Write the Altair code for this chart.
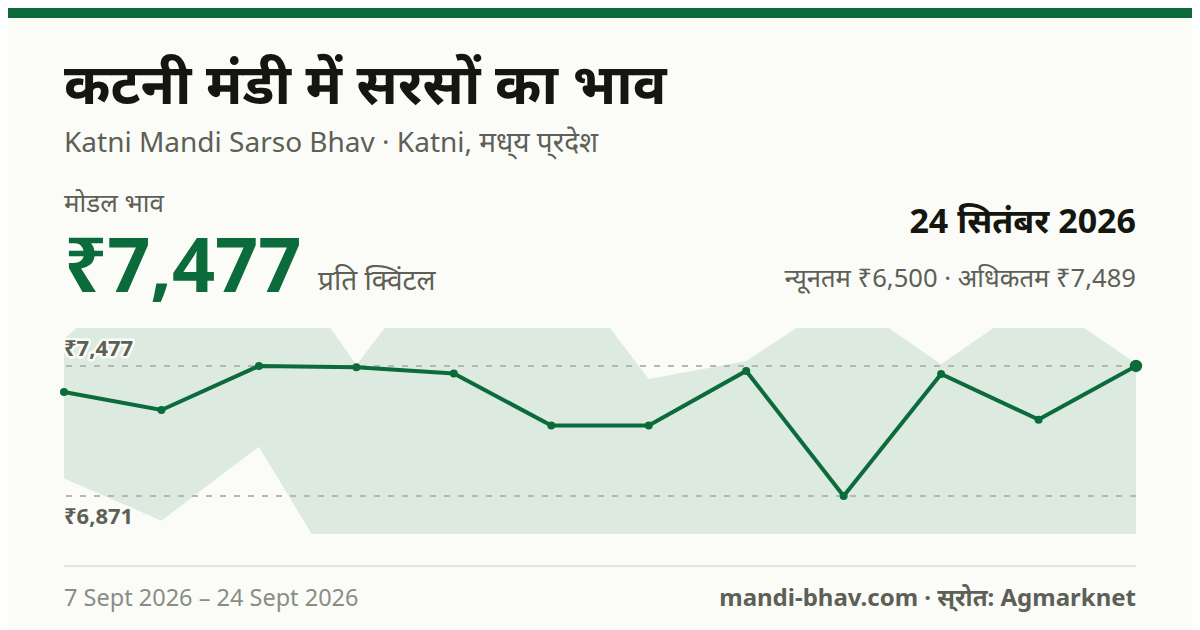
"""Katni mandi sarso bhav card: modal price line over a min-max band."""

import altair as alt
import pandas as pd

# one entry per market day in the card's range
obs = list(range(1, 13))
modal = [7356, 7272, 7477, 7471, 7442, 7200, 7200, 7454, 6871, 7440, 7227, 7477]
low = [6953, 6756, 7101, 6349, 6500, 6500, 6500, 6500, 6500, 6500, 6500, 6500]
high = [7603, 8006, 8130, 7482, 8074, 8013, 7416, 7500, 7799, 7485, 7800, 7489]

ref_values = [7477, 6871]
ref_labels = ["₹7,477", "₹6,871"]

title_text = "कटनी मंडी में सरसों का भाव"
subtitle_text = "Katni Mandi Sarso Bhav · Katni, मध्\u200cय प्\u200cरदेश"
modal_label = "मोडल भाव"
price_text = "₹7,477"
unit_text = "प्रति क्विंटल"
date_text = "24 सितंबर 2026"
range_text = "न्यूनतम ₹6,500 · अधिकतम ₹7,489"
footer_left = "7 Sept 2026 – 24 Sept 2026"
footer_right = "mandi-bhav.com · स्\u200cरोत: Agmarknet"

BG = "#fbfcf8"
GREEN = "#0b6b3a"
INK = "#14170f"
MUTED = "#5c6056"
FONT = "Noto Sans"

# plot area position inside the chart; the page margin adds 8px on top of this
MARGIN = 8
CHART_W, CHART_H = 1184, 622
LEFT, TOP, PLOT_W, PLOT_H = 64 - MARGIN, 328 - MARGIN, 1072, 206

df = pd.DataFrame({"obs": obs, "modal": modal, "low": low, "high": high})
refs = pd.DataFrame({"value": ref_values, "label": ref_labels, "dy": [-17, 21]})

x_enc = alt.X("obs:O", scale=alt.Scale(type="point", padding=0), axis=None)
y_scale = alt.Scale(domain=[6694, 7654], nice=False, zero=False)
y_enc = alt.Y("modal:Q", scale=y_scale, axis=None)


def card_text(text, x, y, size, color, weight="normal", align="left"):
    """Text placed by its window pixel position (baseline), outside the plot area."""
    return (
        alt.Chart(pd.DataFrame({"label": [text]}))
        .mark_text(
            font=FONT, fontSize=size, fontWeight=weight, color=color,
            align=align, baseline="alphabetic",
        )
        .encode(x=alt.value(x - 64), y=alt.value(y - 328), text="label:N")
    )


band = (
    alt.Chart(df)
    .mark_area(color=GREEN, opacity=0.12, clip=True)
    .encode(x=x_enc, y=alt.Y("low:Q", scale=y_scale, axis=None), y2="high:Q")
)

rules = (
    alt.Chart(refs)
    .mark_rule(color="#b5b8b0", strokeWidth=2, strokeDash=[6, 8])
    .encode(y=alt.Y("value:Q", scale=y_scale, axis=None))
)

line = alt.Chart(df).mark_line(color=GREEN, strokeWidth=4).encode(x=x_enc, y=y_enc)
points = alt.Chart(df).mark_circle(color=GREEN, size=64, opacity=1).encode(x=x_enc, y=y_enc)
last_point = (
    alt.Chart(df.tail(1))
    .mark_circle(color=GREEN, size=154, opacity=1)
    .encode(x=alt.X("obs:O", scale=alt.Scale(type="point", padding=0), axis=None), y=y_enc)
)

ref_halo = []
for i in range(len(refs)):
    row = refs.iloc[[i]]
    base = alt.Chart(row).encode(
        x=alt.value(0),
        y=alt.Y("value:Q", scale=y_scale, axis=None),
        text="label:N",
    )
    style = dict(
        font=FONT, fontSize=22, fontWeight="bold", align="left",
        baseline="middle", dy=int(row["dy"].iloc[0]),
    )
    ref_halo.append(base.mark_text(stroke=BG, strokeWidth=5, strokeJoin="round", **style))
    ref_halo.append(base.mark_text(color=MUTED, **style))

# the bar starts where the page margin ends
top_bar = (
    alt.Chart(pd.DataFrame({"a": [0]}))
    .mark_rect(color=GREEN)
    .encode(
        x=alt.value(-LEFT), x2=alt.value(CHART_W - LEFT),
        y=alt.value(-TOP), y2=alt.value(10 - TOP),
    )
)
footer_rule = (
    alt.Chart(pd.DataFrame({"a": [0]}))
    .mark_rule(color="#e3e5df", strokeWidth=2)
    .encode(x=alt.value(0), x2=alt.value(PLOT_W), y=alt.value(566 - 328))
)

chart = alt.layer(
    top_bar,
    band,
    rules,
    line,
    points,
    last_point,
    *ref_halo,
    footer_rule,
    card_text(title_text, 64, 104, 56, INK, "bold"),
    card_text(subtitle_text, 64, 152, 28, MUTED),
    card_text(modal_label, 64, 212, 26, MUTED),
    card_text(price_text, 64, 292, 75.5, GREEN, "bold"),
    card_text(unit_text, 318, 290, 28, MUTED),
    card_text(date_text, 1136, 233, 34, INK, "bold", "right"),
    card_text(range_text, 1136, 287, 25.6, MUTED, "normal", "right"),
    card_text(footer_left, 64, 606, 23.5, "#8a8d85"),
    card_text(footer_right, 1136, 606, 24, MUTED, "bold", "right"),
).properties(
    width=PLOT_W,
    height=PLOT_H,
    background=BG,
    autosize=alt.AutoSizeParams(type="none"),
    padding={"left": LEFT, "top": TOP, "right": CHART_W - LEFT - PLOT_W, "bottom": CHART_H - TOP - PLOT_H},
).configure_view(stroke=None)

chart.save("out.html", embed_options={"renderer": "svg", "actions": False})
